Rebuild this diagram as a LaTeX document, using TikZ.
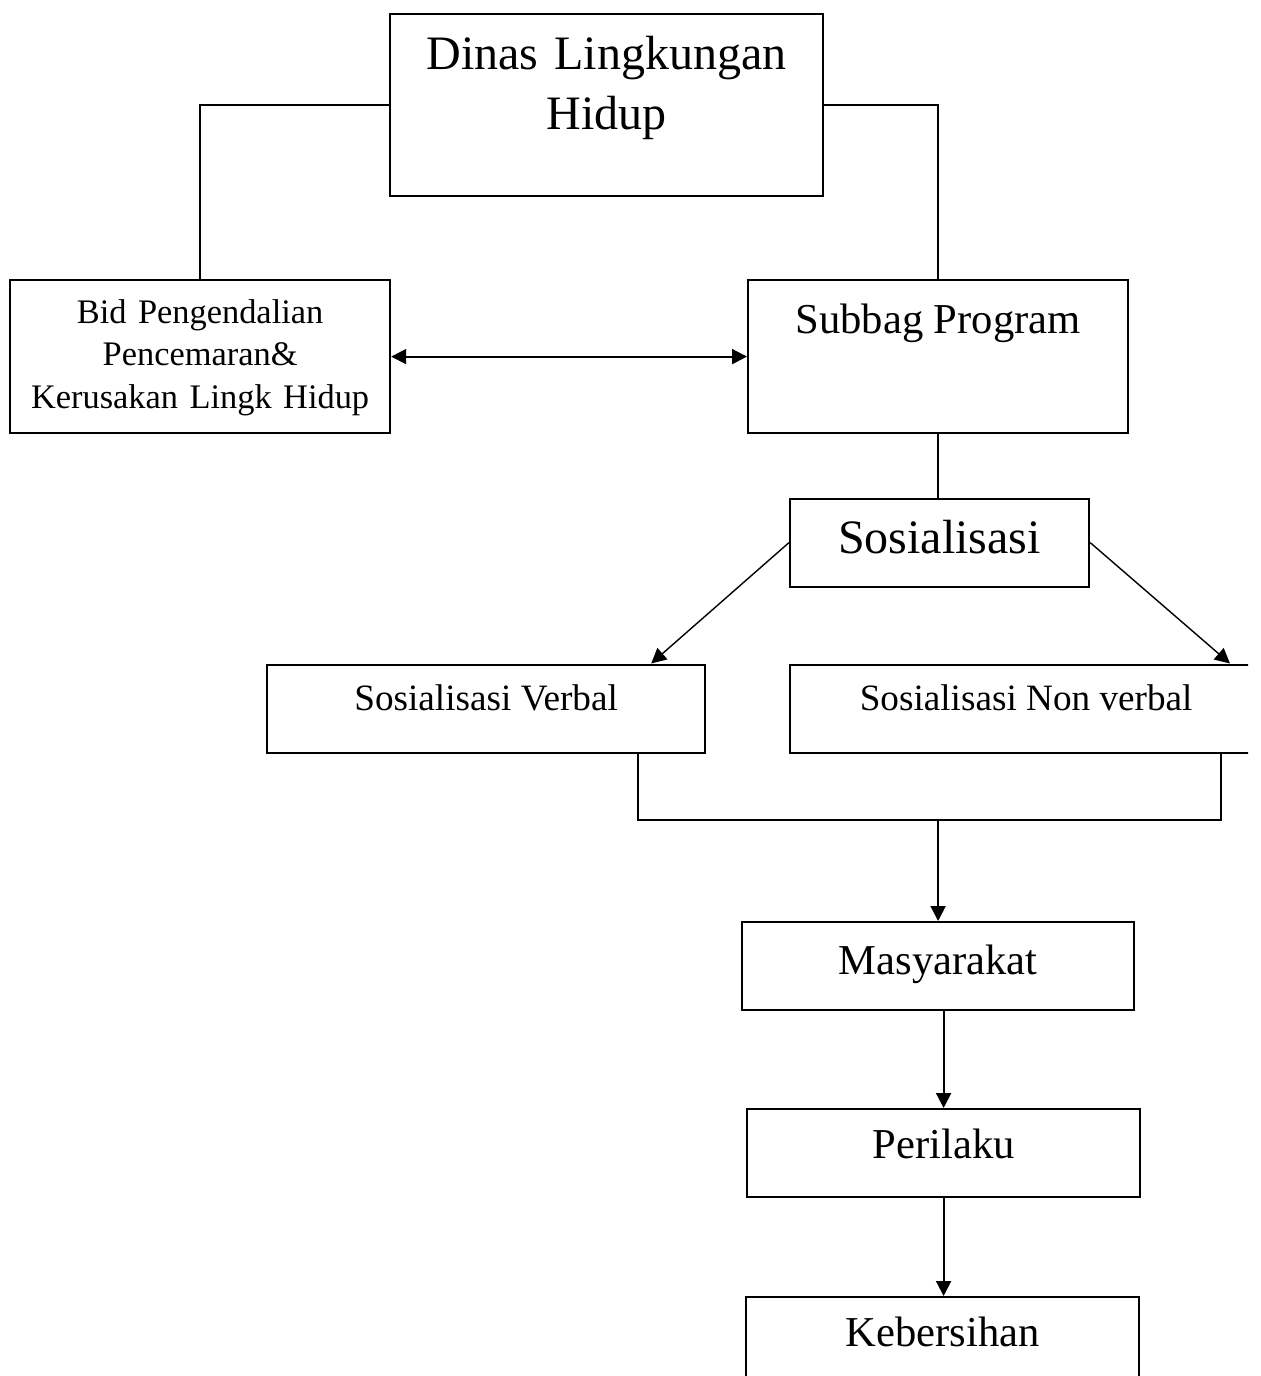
\documentclass[tikz,border=0pt]{standalone}
\usepackage{fontspec}
\setmainfont{Liberation Serif}
\usetikzlibrary{arrows.meta, positioning, calc}

\begin{document}
\begin{tikzpicture}[x=0.5pt, y=-0.5pt, >={Triangle[length=7.5pt, width=7.5pt]},
      line width=1pt,
      box/.style={draw, line width=1.1pt, anchor=north west, inner sep=0pt,
                  align=center},
      fbig/.style={font=\fontsize{24}{30}\selectfont},
      fmid/.style={font=\fontsize{21.3}{26}\selectfont},
      fsml/.style={font=\fontsize{18.6}{23}\selectfont},
      fxs/.style={font=\fontsize{17.2}{21.25}\selectfont}]
    \useasboundingbox (0,0) rectangle (1260,1376);
    \begin{scope}
    \clip (0,0) rectangle (1248,1376);

    % top of the chart
    \node[box, fbig, text width=216.5pt, text height=27.75pt, text depth=63.5pt]
      (dinas) at (389,12.5) {Dinas Lingkungan\\ Hidup};
    \node[box, fxs, text width=190pt, text height=21.5pt, text depth=55pt]
      (bid) at (9,279) {Bid Pengendalian\\ Pencemaran\&\\ Kerusakan Lingk Hidup};
    \node[box, fmid, minimum width=190pt, text height=26.5pt, text depth=50pt]
      (subbag) at (747,279) {Subbag Program};

    % sosialisasi
    \node[box, fbig, minimum width=149.5pt, text height=27.25pt, text depth=16.75pt]
      (sos) at (789,497.5) {Sosialisasi};
    \node[box, fsml, minimum width=219pt, text height=22.75pt, text depth=21.5pt]
      (verbal) at (266,663.5) {Sosialisasi Verbal};
    \node[box, fsml, minimum width=236pt, text height=22.75pt, text depth=21.5pt]
      (nonverbal) at (789,663.5) {Sosialisasi Non verbal};

    % outcome chain
    \node[box, fmid, minimum width=196pt, text height=26pt, text depth=18pt]
      (masy) at (741,921) {Masyarakat};
    \node[box, fmid, minimum width=196.5pt, text height=24.5pt, text depth=19.5pt]
      (perilaku) at (746,1108) {Perilaku};
    \node[box, fmid, minimum width=196.5pt, text height=24.5pt, text depth=19.5pt]
      (kebersihan) at (745,1296) {Kebersihan};

    \draw (dinas.west) -| (bid.north);
    \draw (dinas.east) -| (subbag.north);
    \draw[<->] (bid.east) -- (subbag.west);
    \draw (subbag.south) -- (subbag.south |- sos.north);

    \draw[->, line width=0.7pt] (sos.west)
      -- ($(verbal.north west)!0.875!(verbal.north east)$);
    \draw[->, line width=0.7pt] (sos.east)
      -- ($(nonverbal.north west)!0.93!(nonverbal.north east)$);

    \coordinate (vdrop) at ($(verbal.south west)!0.845!(verbal.south east)$);
    \coordinate (nvdrop) at ($(nonverbal.south west)!0.911!(nonverbal.south east)$);
    \coordinate (join) at (masy.north |- 0,820);
    \draw (vdrop) |- (join) -| (nvdrop);
    \draw[->] (join) -- (masy.north);
    \draw[->] (masy.south -| perilaku.north) -- (perilaku.north);
    \draw[->] (perilaku.south) -- (perilaku.south |- kebersihan.north);
    \end{scope}
  \end{tikzpicture}
\end{document}
